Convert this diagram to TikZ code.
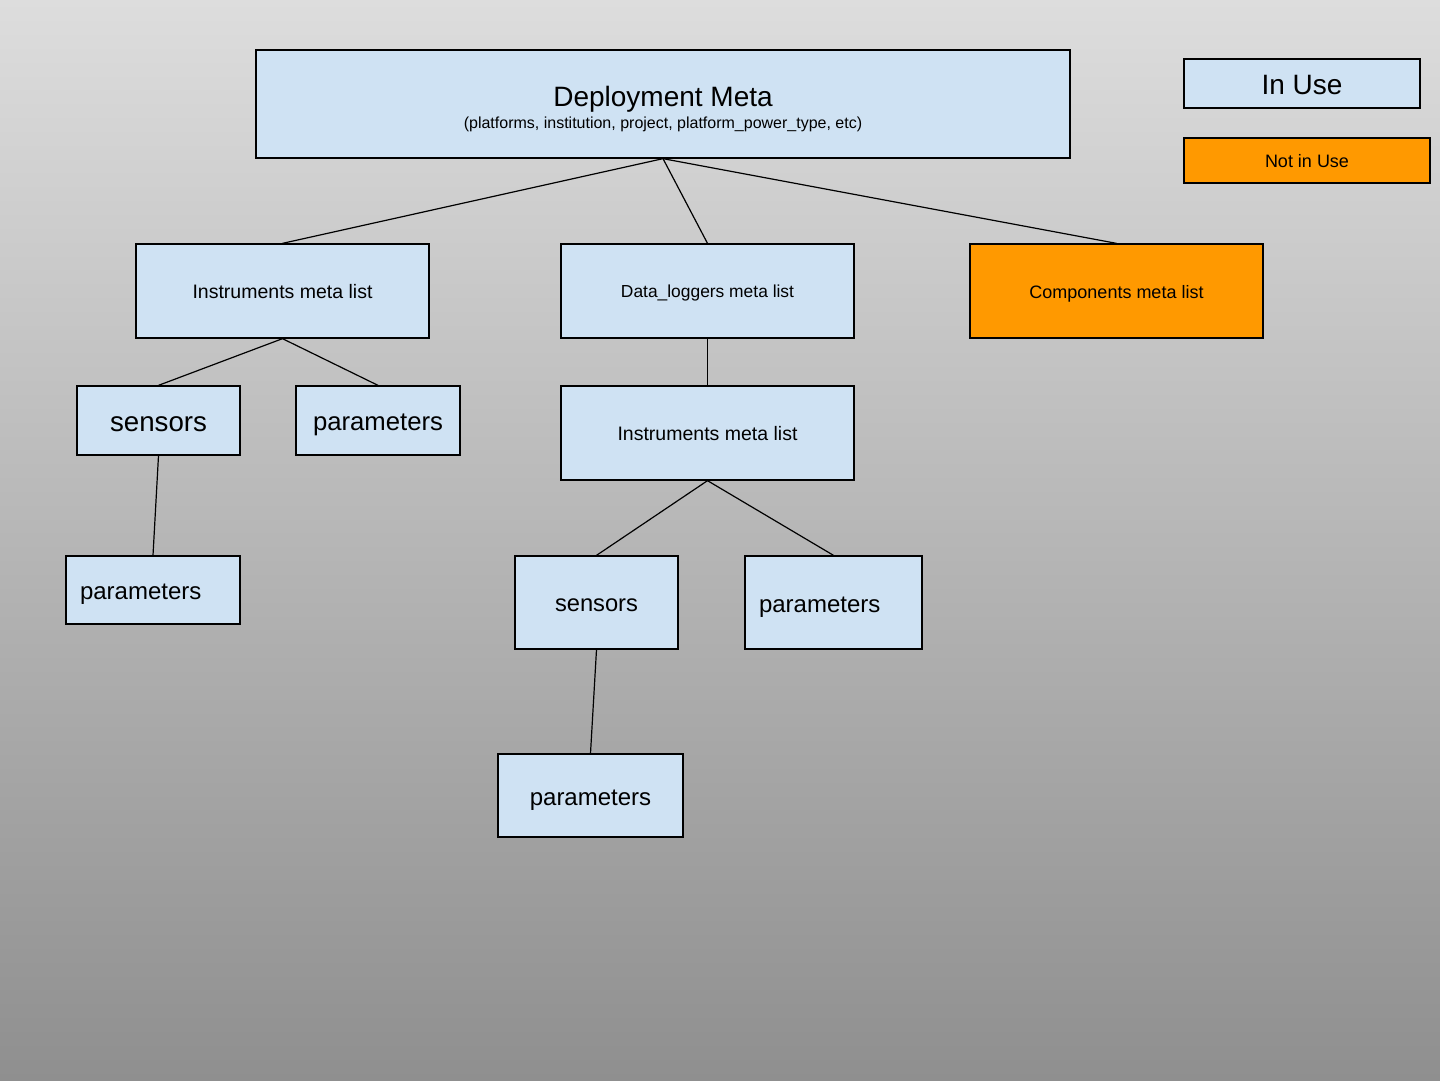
\documentclass[tikz,border=0pt]{standalone}
\usepackage{fontspec}
\setmainfont{Liberation Sans}
\definecolor{inuse}{HTML}{CFE2F3}
\definecolor{notuse}{HTML}{FF9900}
\definecolor{bgtop}{HTML}{DDDDDD}
\definecolor{bgbot}{HTML}{8F8F8F}
\newcommand{\fsz}[1]{\fontsize{#1}{#1}\selectfont}
\begin{document}
\begin{tikzpicture}[x=1pt,y=1pt,
  box/.style={draw=black, line width=1.3pt, fill=inuse, rectangle, inner sep=0pt, text=black},
  tb/.code={\pgfmathparse{0.8*#1}\edef\tbtmp{\noexpand\tikzset{font=\noexpand\fsz{#1}, text height=\pgfmathresult pt, text depth=0pt}}\tbtmp},
  offbox/.style={box, fill=notuse},
  link/.style={draw=black, line width=1.2pt},
  lbox/.style={box, align=left, inner xsep=14pt, inner ysep=0pt}]
\useasboundingbox (0,0) rectangle (1440,-1080);
\shade[top color=bgtop, bottom color=bgbot] (0,0) rectangle (1440,-1080);

% top node
\node[box, minimum width=814pt, minimum height=108pt] (dm) at (663,-104) {};
\node[inner sep=0pt, font=\fsz{28}] (dmt) at (663,-99) {Deployment Meta};
\node[inner sep=0pt, font=\fsz{16}] (dms) at (663,-124) {(platforms, institution, project, platform\_power\_type, etc)};

% legend
\node[box, minimum width=236pt, minimum height=49pt, tb=28] (inuse) at (1302,-83.5) {In Use};
\node[offbox, minimum width=246pt, minimum height=45pt, tb=18] (notuse) at (1307,-160.5) {Not in Use};

% second level
\node[box, minimum width=293pt, minimum height=94pt, tb=19.5] (iml) at (282.5,-291) {Instruments meta list};
\node[box, minimum width=293pt, minimum height=94pt, tb=17.4] (dl) at (707.5,-291) {Data\_loggers meta list};
\node[offbox, minimum width=293pt, minimum height=94pt, tb=18] (cml) at (1116.5,-291) {Components meta list};

% left branch
\node[box, minimum width=163pt, minimum height=69pt, tb=27.7] (s1) at (158.5,-420.5) {sensors};
\node[box, minimum width=164pt, minimum height=69pt, tb=25.7] (p1) at (378,-420.5) {parameters};
\node[lbox, text width=146pt, minimum height=68pt, tb=24] (p2) at (153,-590) {parameters};

% middle branch
\node[box, minimum width=293pt, minimum height=94pt, tb=19.5] (iml2) at (707.5,-433) {Instruments meta list};
\node[box, minimum width=163pt, minimum height=93pt, tb=23.7] (s2) at (596.5,-602.5) {sensors};
\node[lbox, text width=149pt, minimum height=93pt, tb=24] (p3) at (833.5,-602.5) {parameters};
\node[box, minimum width=185pt, minimum height=83pt, tb=24] (p4) at (590.5,-795.5) {parameters};

% connectors
\draw[link] (dm.south) -- (iml.north);
\draw[link] (dm.south) -- (dl.north);
\draw[link] (dm.south) -- (cml.north);
\draw[link] (iml.south) -- (s1.north);
\draw[link] (iml.south) -- (p1.north);
\draw[link] (s1.south) -- (p2.north);
\draw[link] (dl.south) -- (iml2.north);
\draw[link] (iml2.south) -- (s2.north);
\draw[link] (iml2.south) -- (p3.north);
\draw[link] (s2.south) -- (p4.north);
\end{tikzpicture}
\end{document}
